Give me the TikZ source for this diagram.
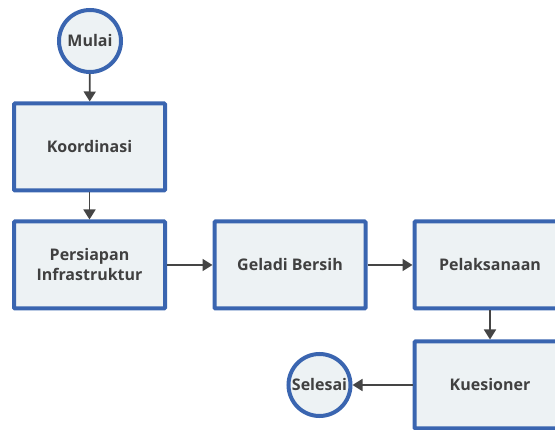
\documentclass[tikz,border=0pt]{standalone}
\usepackage{fontspec}
\setmainfont{Open Sans}
\usepackage{tikz}
\usetikzlibrary{arrows.meta}
\definecolor{edgeblue}{HTML}{3A65B0}
\definecolor{boxfill}{HTML}{EDF2F4}
\definecolor{textgrey}{HTML}{404040}
\definecolor{linegrey}{HTML}{454545}

\begin{document}
\begin{tikzpicture}[x=1pt,y=-1pt,
	process/.style={draw=edgeblue, fill=boxfill, line width=4pt, rounded corners=1pt,
		minimum width=151pt, minimum height=87pt, text=textgrey, align=center,
		font=\fontsize{16}{20}\selectfont\bfseries},
	terminal/.style={circle, draw=edgeblue, fill=boxfill, line width=4pt,
		minimum size=62pt, inner sep=0pt, text=textgrey,
		font=\fontsize{16}{20}\selectfont\bfseries},
	flow/.style={draw=linegrey, line width=1.8pt, -{Triangle[length=10pt,width=12pt]}}]

\useasboundingbox (0,0) rectangle (555,430);

\node [terminal] (mulai) at (90,41) {Mulai};
\node [process] (koordinasi) at (89.5,147) {Koordinasi};
\node [process] (persiapan) at (89.5,265) {Persiapan\\Infrastruktur};
\node [process] (geladi) at (290,265) {Geladi Bersih};
\node [process] (pelaksanaan) at (490,265) {Pelaksanaan};
\node [process] (kuesioner) at (490,385) {Kuesioner};
\node [terminal] (selesai) at (319.5,385) {Selesai};

\draw [flow] (mulai)--(koordinasi);
\draw [flow] (koordinasi)--(persiapan);
\draw [flow] (persiapan)--(geladi);
\draw [flow] (geladi)--(pelaksanaan);
\draw [flow] (pelaksanaan)--(kuesioner);
\draw [flow] (kuesioner)--(selesai);

\end{tikzpicture}
\end{document}
